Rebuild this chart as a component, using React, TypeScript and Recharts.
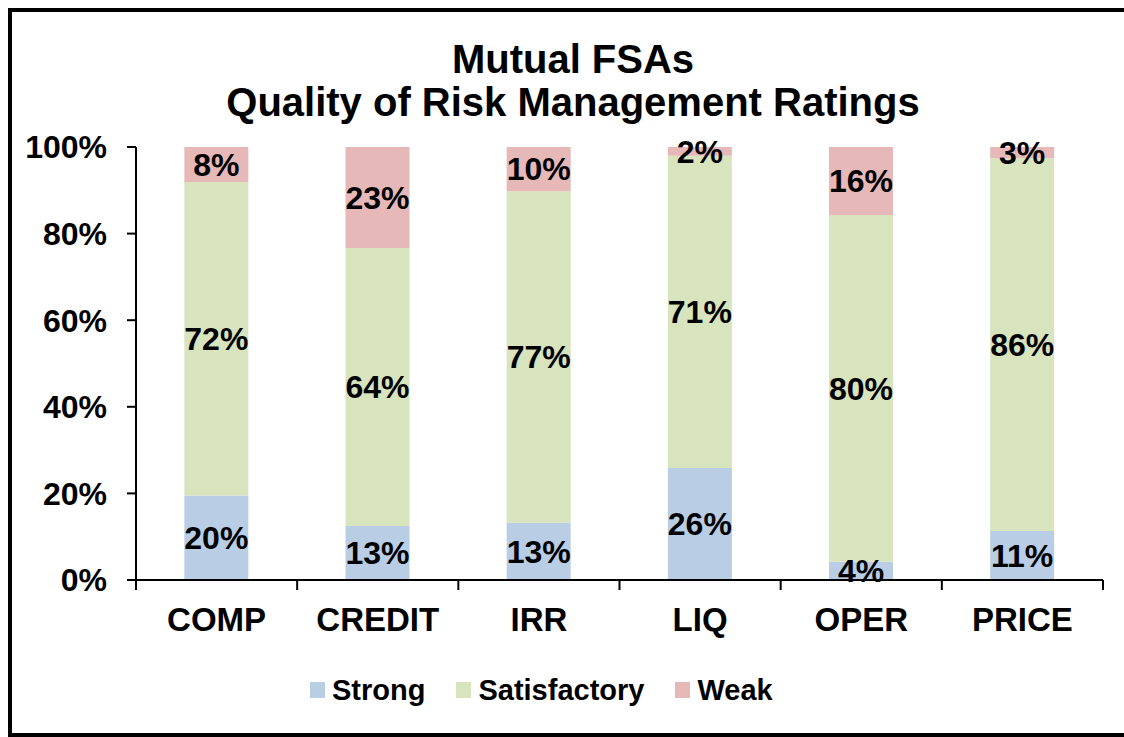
import { Bar, BarChart, LabelList, XAxis, YAxis } from 'recharts';

const categories = ['COMP', 'CREDIT', 'IRR', 'LIQ', 'OPER', 'PRICE'];
const strong = [19.5, 12.5, 13.2, 25.6, 4.2, 11.3];
const satisfactory = [72.4, 64.2, 76.6, 71.4, 80.1, 86.1];
const weak = [8.1, 23.3, 10.2, 2.0, 15.7, 2.6];
const yTicks = [0, 0.2, 0.4, 0.6, 0.8, 1];

const seriesNames = ['Strong', 'Satisfactory', 'Weak'];
const seriesKeys = ['strong', 'satisfactory', 'weak'];
const seriesColors = ['#B9CDE5', '#D7E4BD', '#E6B9B8'];

const data = categories.map((name, i) => ({
  name,
  strong: strong[i],
  satisfactory: satisfactory[i],
  weak: weak[i],
}));

const FONT = '"Liberation Sans", Arial, sans-serif';
const CHART_W = 1112;
const Y_AXIS_W = 124;
const RIGHT = 21;
const PLOT_W = CHART_W - Y_AXIS_W - RIGHT;
const TICK_LEN = 10;

const CategoryTick = (props: any) => {
  const { x, y, payload, index } = props;
  const axisY = y - TICK_LEN;
  const half = PLOT_W / (2 * categories.length);
  return (
    <g>
      <line x1={x - half} x2={x - half} y1={axisY} y2={axisY + TICK_LEN} stroke="#000" strokeWidth={2} />
      {index === categories.length - 1 && (
        <line x1={x + half} x2={x + half} y1={axisY} y2={axisY + TICK_LEN} stroke="#000" strokeWidth={2} />
      )}
      <text x={x} y={axisY + 51} textAnchor="middle" fill="#000" fontSize={33} fontWeight="bold" fontFamily={FONT}>
        {payload.value}
      </text>
    </g>
  );
};

const pct = (v: number) => `${Math.round(v)}%`;

const App = () => (
  <div
    style={{
      position: 'fixed',
      left: 8,
      top: 8,
      width: 1140,
      height: 721,
      borderLeft: '4px solid #000',
      borderTop: '4px solid #000',
      borderBottom: '4px solid #000',
      background: '#fff',
      fontFamily: FONT,
    }}
  >
    <div
      style={{
        position: 'absolute',
        left: 61,
        top: 26,
        width: 1000,
        textAlign: 'center',
        fontSize: 40,
        fontWeight: 'bold',
        lineHeight: '43px',
        color: '#000',
      }}
    >
      <div>Mutual FSAs</div>
      <div>Quality of Risk Management Ratings</div>
    </div>
    <BarChart
      width={CHART_W}
      height={650}
      data={data}
      stackOffset="expand"
      barCategoryGap="30%"
      margin={{ top: 135, right: RIGHT, left: 0, bottom: 0 }}
    >
      <XAxis
        dataKey="name"
        height={82}
        tickLine={false}
        tickSize={TICK_LEN}
        tickMargin={0}
        axisLine={{ stroke: '#000', strokeWidth: 2 }}
        tick={<CategoryTick />}
        interval={0}
      />
      <YAxis
        width={Y_AXIS_W}
        domain={[0, 1]}
        ticks={yTicks}
        tickFormatter={(v: number) => `${Math.round(v * 100)}%`}
        tickSize={9}
        tickMargin={20}
        axisLine={{ stroke: '#000', strokeWidth: 2 }}
        tickLine={{ stroke: '#000', strokeWidth: 2 }}
        tick={{ fill: '#000', fontSize: 32, fontWeight: 'bold', fontFamily: FONT }}
      />
      {seriesKeys.map((key, i) => (
        <Bar key={key} dataKey={key} name={seriesNames[i]} stackId="a" fill={seriesColors[i]} isAnimationActive={false}>
          <LabelList
            dataKey={key}
            position="center"
            formatter={(v: any) => pct(Number(v))}
            fill="#000"
            fontSize={32}
            fontWeight="bold"
            fontFamily={FONT}
          />
        </Bar>
      ))}
    </BarChart>
    <div
      style={{
        position: 'absolute',
        left: 298,
        top: 662,
        display: 'flex',
        alignItems: 'center',
        gap: 31,
        fontSize: 29,
        fontWeight: 'bold',
        lineHeight: '32px',
        color: '#000',
      }}
    >
      {seriesNames.map((name, i) => (
        <div key={name} style={{ display: 'flex', alignItems: 'center', gap: 7 }}>
          <span style={{ display: 'inline-block', width: 15, height: 16, background: seriesColors[i] }} />
          <span>{name}</span>
        </div>
      ))}
    </div>
  </div>
);

export default App;
